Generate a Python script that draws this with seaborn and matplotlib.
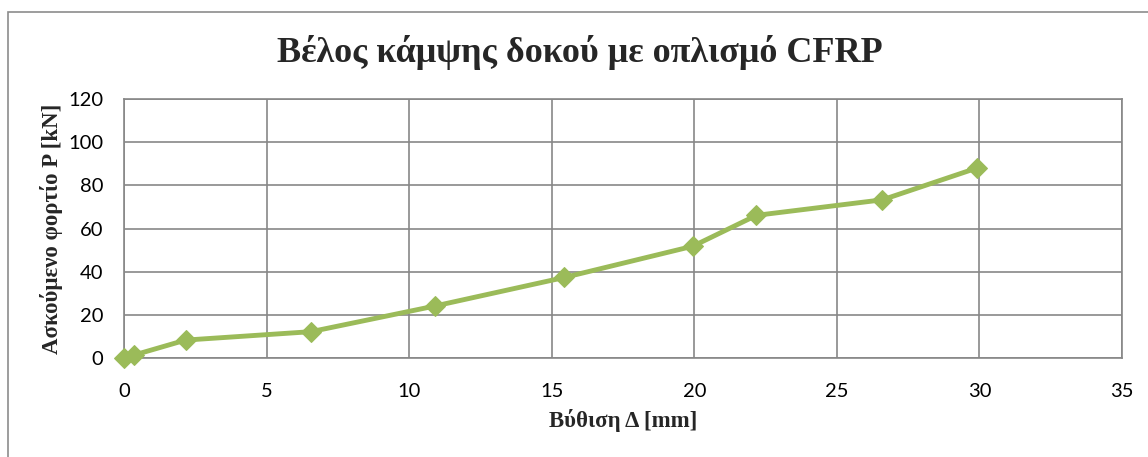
import matplotlib
matplotlib.use("Agg")
import matplotlib.pyplot as plt
import seaborn as sns
import pandas as pd
from matplotlib.patches import Rectangle

# deflection [mm] and load [kN]
deflection = [0.0, 0.36, 2.16, 6.56, 10.91, 15.44, 19.95, 22.18, 26.6, 29.91]
load = [0.0, 1.4, 8.3, 12.2, 24.1, 37.3, 51.8, 66.1, 73.3, 88.0]
x_ticks = [0, 5, 10, 15, 20, 25, 30, 35]
y_ticks = [0, 20, 40, 60, 80, 100, 120]

df = pd.DataFrame({"d": deflection, "p": load})

sns.set_style("white")
plt.rcParams["font.family"] = ["Lato", "DejaVu Sans"]

grid_col = "#878787"
green = "#9BBB59"

fig = plt.figure(figsize=(11.48, 4.57), dpi=100)
ax = fig.add_axes([124 / 1148, 1 - 358 / 457, 998 / 1148, 259 / 457])

# outer chart border
fig.patches.append(Rectangle((8 / 1148, -0.1), 1.2, 1 - 12 / 457 + 0.1,
                             transform=fig.transFigure, fill=False,
                             edgecolor="#8c8c8c", linewidth=1.2, zorder=0))

sns.lineplot(data=df, x="d", y="p", ax=ax, color=green, linewidth=3.5,
             marker="D", markersize=10, markeredgecolor=green, zorder=3,
             clip_on=False)

ax.set_xlim(0, 35)
ax.set_ylim(0, 120)
ax.set_xticks(x_ticks)
ax.set_yticks(y_ticks)
ax.grid(True, color=grid_col, linewidth=1.2)
for s in ax.spines.values():
    s.set_color(grid_col)
    s.set_linewidth(1.2)
ax.tick_params(axis="both", length=0, labelsize=14.5, colors="black")
ax.tick_params(axis="x", pad=18)
ax.tick_params(axis="y", pad=15)

serif = ["Liberation Serif", "DejaVu Serif"]
ax.set_xlabel("Βύθιση Δ [mm]", family=serif, fontweight="bold", fontsize=16.5)
ax.set_ylabel("Ασκούμενο φορτίο P [kN]", family=serif, fontweight="bold", fontsize=16.5)
ax.xaxis.set_label_coords(0.5, -(420 - 358) / 259, transform=ax.transAxes)
ax.xaxis.label.set_va("center")
ax.yaxis.set_label_coords(-(124 - 52) / 998, 0.5, transform=ax.transAxes)
ax.yaxis.label.set_va("center")
fig.text(580 / 1148, 1 - 52 / 457, "Βέλος κάμψης δοκού με οπλισμό CFRP",
         family=serif, fontweight="bold", fontsize=26, ha="center", va="center")

fig.savefig("out.png", dpi=100)
